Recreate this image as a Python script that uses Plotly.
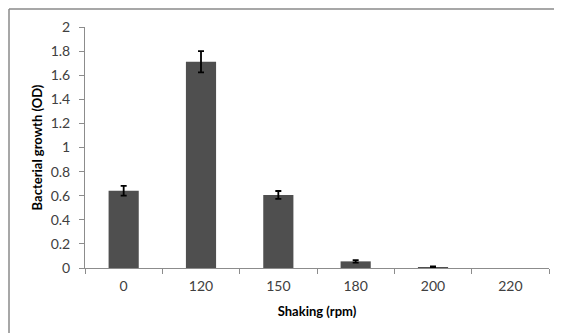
import plotly.graph_objects as go

categories = ["0", "120", "150", "180", "200", "220"]
growth = [0.641, 1.712, 0.606, 0.055, 0.008, 0.0]
errors = [0.040, 0.088, 0.033, 0.010, 0.005, 0.0]

# plot area in figure coordinates (page adds an 8px body margin)
L, R, T, B = 77, 21, 19, 73
W, H = 562, 333
pw, ph = W - L - R, H - T - B

fig = go.Figure()
fig.add_trace(go.Bar(
    x=categories, y=growth,
    marker=dict(color="#4f4f4f", line=dict(width=0)),
    hoverinfo="x+y",
))
# error bars only where an error was drawn
ex = [c for c, e in zip(categories, errors) if e > 0]
ey = [g for g, e in zip(growth, errors) if e > 0]
ee = [e for e in errors if e > 0]
fig.add_trace(go.Scatter(
    x=ex, y=ey, mode="markers", marker=dict(size=1, opacity=0),
    error_y=dict(type="data", array=ee, visible=True, color="#000000",
                 thickness=1.8, width=3),
    hoverinfo="skip",
))

axis_font = dict(family="Lato, Open Sans, sans-serif", size=14, color="#404040")
title_font = dict(family="Lato, Open Sans, sans-serif", size=13, color="#000000")
fig.update_layout(
    width=W, height=H,
    margin=dict(l=L, r=R, t=T, b=B),
    paper_bgcolor="white", plot_bgcolor="white",
    bargap=0.61,
    showlegend=False,
    xaxis=dict(
        type="category", categoryorder="array", categoryarray=categories,
        tickson="boundaries", automargin=False,
        showline=True, linecolor="#8c8c8c", linewidth=1,
        ticks="outside", ticklen=5, tickcolor="#8c8c8c",
        ticklabelstandoff=5,
        tickfont=axis_font, showgrid=False,
        title=dict(text="<b>Shaking (rpm)</b>", standoff=14, font=title_font),
    ),
    yaxis=dict(
        range=[0, 2], dtick=0.2, tickformat="~g", automargin=False,
        showline=True, linecolor="#8c8c8c", linewidth=1,
        ticks="outside", ticklen=5, tickcolor="#8c8c8c",
        ticklabelstandoff=6,
        tickfont=axis_font, showgrid=False, zeroline=False,
        title=dict(text="<b>Bacterial growth (OD)</b>", standoff=5, font=title_font),
    ),
    shapes=[
        dict(type="line", xref="paper", yref="paper",
             x0=-(L - 1) / pw, x1=1 + R / pw, y0=1 + (T - 1) / ph, y1=1 + (T - 1) / ph,
             line=dict(color="#8a8a8a", width=1.5)),
        dict(type="line", xref="paper", yref="paper",
             x0=-(L - 1) / pw, x1=-(L - 1) / pw, y0=1 + (T - 1) / ph, y1=-B / ph,
             line=dict(color="#8a8a8a", width=1.5)),
    ],
)

fig.write_html("out.html")
